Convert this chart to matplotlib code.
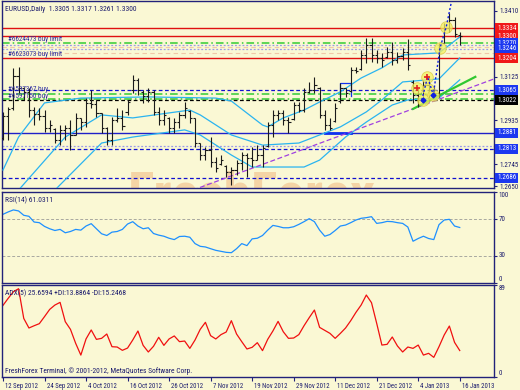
import matplotlib
matplotlib.use('Agg')
import matplotlib.pyplot as plt
import matplotlib.transforms as mtransforms
import numpy as np

plt.rcParams['font.family'] = ['Liberation Sans Narrow', 'Roboto Condensed', 'Liberation Sans', 'DejaVu Sans']

# ---------------- data ----------------
opens = [1.2859, 1.2954, 1.2989, 1.3128, 1.3076, 1.3059, 1.2980, 1.2963, 1.2954, 1.2902,
         1.2898, 1.2850, 1.2894, 1.2902, 1.2872, 1.2946, 1.2928, 1.3011, 1.3006, 1.2967,
         1.2902, 1.2850, 1.2937, 1.2946, 1.2972, 1.3067, 1.3111, 1.3059, 1.3041, 1.3059,
         1.2972, 1.2937, 1.2946, 1.2902, 1.2928, 1.2959, 1.2976, 1.2946, 1.2837, 1.2785,
         1.2807, 1.2755, 1.2746, 1.2737, 1.2711, 1.2720, 1.2750, 1.2785, 1.2772, 1.2763,
         1.2785, 1.2824, 1.2915, 1.2959, 1.2967, 1.2937, 1.2941, 1.3002, 1.2980, 1.3059,
         1.3067, 1.3076, 1.2959, 1.2915, 1.2933, 1.3019, 1.3076, 1.3063, 1.3154, 1.3158,
         1.3219, 1.3262, 1.3219, 1.3206, 1.3210, 1.3232, 1.3197, 1.3215, 1.3232, 1.3102,
         1.3046, 1.3024, 1.3089, 1.3067, 1.3054, 1.3271, 1.3336, 1.3371, 1.3305]
highs = [1.2972, 1.2993, 1.3163, 1.3167, 1.3080, 1.3076, 1.2993, 1.2989, 1.2980, 1.2937,
         1.2902, 1.2915, 1.2915, 1.2937, 1.2967, 1.2946, 1.3032, 1.3067, 1.3024, 1.2967,
         1.2907, 1.2950, 1.2989, 1.2980, 1.3024, 1.3132, 1.3119, 1.3067, 1.3076, 1.3067,
         1.2993, 1.2980, 1.2950, 1.2946, 1.2972, 1.3015, 1.2980, 1.2946, 1.2837, 1.2820,
         1.2863, 1.2776, 1.2785, 1.2742, 1.2733, 1.2763, 1.2798, 1.2794, 1.2820, 1.2828,
         1.2828, 1.2928, 1.2980, 1.2980, 1.2980, 1.2950, 1.3015, 1.3015, 1.3076, 1.3102,
         1.3124, 1.3080, 1.2980, 1.2946, 1.3011, 1.3098, 1.3076, 1.3167, 1.3167, 1.3241,
         1.3293, 1.3293, 1.3241, 1.3228, 1.3254, 1.3275, 1.3232, 1.3249, 1.3288, 1.3111,
         1.3076, 1.3111, 1.3124, 1.3080, 1.3271, 1.3358, 1.3401, 1.3384, 1.3317]
lows = [1.2850, 1.2850, 1.2980, 1.3054, 1.3024, 1.2950, 1.2915, 1.2937, 1.2885, 1.2885,
        1.2837, 1.2828, 1.2850, 1.2807, 1.2872, 1.2894, 1.2907, 1.2989, 1.2950, 1.2881,
        1.2828, 1.2828, 1.2928, 1.2894, 1.2959, 1.3054, 1.3046, 1.3011, 1.3015, 1.2959,
        1.2915, 1.2915, 1.2881, 1.2881, 1.2902, 1.2946, 1.2924, 1.2820, 1.2763, 1.2763,
        1.2733, 1.2711, 1.2742, 1.2690, 1.2655, 1.2698, 1.2720, 1.2690, 1.2733, 1.2763,
        1.2733, 1.2820, 1.2863, 1.2937, 1.2915, 1.2881, 1.2937, 1.2972, 1.2972, 1.3054,
        1.3054, 1.2946, 1.2894, 1.2894, 1.2928, 1.3011, 1.3037, 1.3059, 1.3141, 1.3154,
        1.3184, 1.3189, 1.3184, 1.3167, 1.3206, 1.3176, 1.3184, 1.3197, 1.3154, 1.3011,
        1.2993, 1.3024, 1.3032, 1.3037, 1.3037, 1.3271, 1.3319, 1.3297, 1.3261]
closes = [1.2954, 1.2985, 1.3128, 1.3076, 1.3059, 1.2980, 1.2963, 1.2954, 1.2902, 1.2915,
          1.2850, 1.2894, 1.2902, 1.2872, 1.2946, 1.2928, 1.3011, 1.3006, 1.2967, 1.2902,
          1.2850, 1.2937, 1.2946, 1.2911, 1.3015, 1.3111, 1.3067, 1.3041, 1.3059, 1.2972,
          1.2937, 1.2959, 1.2902, 1.2928, 1.2959, 1.2989, 1.2946, 1.2837, 1.2785, 1.2807,
          1.2755, 1.2729, 1.2763, 1.2711, 1.2720, 1.2750, 1.2785, 1.2772, 1.2763, 1.2785,
          1.2815, 1.2915, 1.2959, 1.2967, 1.2937, 1.2928, 1.3002, 1.2980, 1.3059, 1.3067,
          1.3089, 1.2959, 1.2915, 1.2902, 1.2989, 1.3076, 1.3054, 1.3154, 1.3150, 1.3219,
          1.3262, 1.3219, 1.3206, 1.3197, 1.3232, 1.3197, 1.3215, 1.3232, 1.3176, 1.3046,
          1.3024, 1.3089, 1.3067, 1.3054, 1.3249, 1.3336, 1.3371, 1.3310, 1.3300]

# three cyan averages (bar index, price)
ma_fast_idx = [0, 3, 8, 15, 28, 41, 44, 47, 50, 51, 54, 58, 61, 65, 69, 73, 77, 84, 86, 88]
ma_fast_val = [1.2720, 1.2863, 1.3011, 1.3032, 1.3037, 1.3032, 1.3019, 1.2967, 1.2915, 1.2907,
               1.2946, 1.2980, 1.3015, 1.3059, 1.3119, 1.3163, 1.3219, 1.3228, 1.3262, 1.3297]
ma_mid_idx = [3, 12, 19, 25, 36, 38, 44, 50, 57, 65, 70, 73, 77, 84, 88]
ma_mid_val = [1.2633, 1.2863, 1.2959, 1.2946, 1.2980, 1.2959, 1.2872, 1.2828, 1.2837, 1.2907,
              1.2972, 1.3024, 1.3102, 1.3115, 1.3206]
ma_slow_idx = [10, 19, 25, 35, 38, 44, 48, 58, 61, 66, 70, 75, 78, 84, 88]
ma_slow_val = [1.2633, 1.2837, 1.2863, 1.2894, 1.2872, 1.2785, 1.2733, 1.2733, 1.2763, 1.2863,
               1.2928, 1.3002, 1.3024, 1.3032, 1.3111]

rsi = [75.5, 78.1, 80.3, 79.2, 74.4, 73.3, 67.0, 66.3, 62.2, 59.6,
       57.7, 58.9, 55.2, 56.6, 58.9, 58.1, 62.6, 65.2, 59.6, 54.1,
       52.2, 55.9, 56.6, 58.9, 64.8, 67.4, 62.6, 59.6, 60.7, 54.4,
       52.6, 51.4, 49.2, 47.7, 51.1, 51.4, 50.3, 43.3, 40.3, 39.6,
       37.7, 35.9, 34.8, 33.7, 33.3, 37.7, 43.3, 41.1, 48.5, 49.2,
       52.2, 58.1, 63.3, 62.2, 60.7, 60.7, 61.8, 64.4, 67.4, 70.7,
       67.4, 58.1, 51.4, 53.3, 57.7, 62.6, 63.7, 66.3, 69.2, 71.1,
       71.8, 72.9, 65.5, 66.3, 67.7, 67.4, 66.3, 65.5, 61.5, 45.9,
       48.9, 51.4, 48.9, 47.7, 64.1, 69.2, 70.0, 62.6, 61.0]
adx = [69.3, 76.1, 82.5, 85.4, 56.7, 47.4, 49.6, 51.6, 58.4, 65.4,
       69.6, 72.2, 53.5, 46.1, 32.6, 21.2, 36.8, 45.5, 36.4, 37.4,
       41.6, 29.3, 29.0, 25.8, 28.0, 35.8, 44.5, 30.6, 24.2, 29.7,
       38.4, 30.6, 36.8, 39.7, 34.2, 34.8, 27.7, 35.8, 46.1, 52.9,
       40.0, 36.8, 41.0, 43.5, 54.5, 41.6, 34.2, 27.1, 28.7, 33.2,
       25.5, 36.4, 44.5, 53.8, 43.8, 37.4, 37.7, 41.0, 49.6, 57.4,
       64.8, 48.0, 45.1, 42.2, 37.4, 42.2, 47.4, 54.5, 62.5, 69.6,
       79.3, 71.9, 51.9, 30.9, 31.6, 38.7, 30.0, 24.2, 29.0, 27.7,
       30.9, 21.2, 22.9, 19.0, 29.3, 40.6, 49.3, 33.5, 25.6]

date_idx = [0, 8, 16, 24, 32, 40, 48, 56, 64, 72, 80, 88]
date_labels = ['12 Sep 2012', '24 Sep 2012', '4 Oct 2012', '16 Oct 2012', '26 Oct 2012',
               '7 Nov 2012', '19 Nov 2012', '29 Nov 2012', '11 Dec 2012', '21 Dec 2012',
               '4 Jan 2013', '16 Jan 2013']

price_ticks = [1.3410, 1.3125, 1.2935, 1.2745, 1.2650]
level_labels = [1.3334, 1.3300, 1.3270, 1.3246, 1.3204, 1.3065, 1.3022, 1.2881, 1.2813, 1.2686]
level_kinds = ['red', 'red', 'blue', 'blue', 'red', 'blue', 'black', 'blue', 'blue', 'blue']

hlines_price = [1.3334, 1.3300, 1.3270, 1.3262, 1.3246, 1.3204, 1.3065, 1.3050, 1.3026, 1.3022,
                1.2881, 1.2824, 1.2813, 1.2686]
hlines_kind = ['red', 'red', 'green', 'lav', 'lav', 'red', 'bdash', 'green', 'green', 'kdash',
               'bsolid', 'lav', 'bdash', 'bdash']
faint_levels = [1.3254, 1.3228]

order_texts = ['#6624473 buy limit', '#6623073 buy limit', '#6597367 buy', '#6597150 buy']
order_prices = [1.3286, 1.3219, 1.3071, 1.3040]

trend_purple_idx = [36.6, 94.6]
trend_purple_val = [1.2633, 1.3115]
trend_green_idx = [79.0, 91.0]
trend_green_val = [1.2985, 1.3124]

wave_idx = [79.8, 81.7, 81.9, 80.9, 82.9, 84.2, 85.4]
wave_val = [1.3076, 1.3124, 1.3072, 1.3024, 1.3046, 1.3249, 1.3341]
wave_path_idx = [80.7, 81.8, 82.9, 84.2, 85.4, 86.4]
wave_path_val = [1.3024, 1.3124, 1.3046, 1.3249, 1.3341, 1.3450]

# ---------------- styling ----------------
W, H = 520, 390
BG = '#FAF8D4'
NAVY = '#22227a'
TXT = '#1c1c6e'
FS = 5.4
FSR = 5.0

fig = plt.figure(figsize=(5.2, 3.9), dpi=100)
fig.patch.set_facecolor(BG)


def px_axes(x0, y0, x1, y1):
    return fig.add_axes([x0 / W, 1 - y1 / H, (x1 - x0) / W, (y1 - y0) / H])


ax = px_axes(2, 1, 494, 188)
ax_rsi = px_axes(2, 192, 494, 283)
ax_adx = px_axes(2, 285, 494, 377)

XL = (-0.19, 94.6)
for a in (ax, ax_rsi, ax_adx):
    a.set_facecolor(BG)
    a.set_xlim(*XL)
    for s in a.spines.values():
        s.set_color(NAVY)
        s.set_linewidth(1.0)
    a.yaxis.tick_right()
    a.tick_params(axis='y', colors=NAVY, labelcolor=TXT, labelsize=FSR, length=2, pad=2, width=0.8)
    a.tick_params(axis='x', bottom=False, labelbottom=False)

# ---- main panel ----
ax.set_ylim(1.2642, 1.3453)
ax.set_yticks(price_ticks)
ax.set_yticklabels(['%.4f' % v for v in price_ticks])

ax.text(24, 1.2538, 'FreshForex', fontsize=40, fontweight='bold', color='#F0B880',
        alpha=0.55, ha='left', va='baseline', clip_on=True, zorder=0)

for p in faint_levels:
    ax.axhline(p, color='#F0C8A8', lw=0.8, ls=(0, (4, 3)), zorder=1)

style = {
    'red': dict(color='#E01010', lw=1.0, ls='-'),
    'green': dict(color='#33CC33', lw=1.1, ls=(0, (5, 2, 1, 2))),
    'lav': dict(color='#9A9AE8', lw=0.9, ls=(0, (1.5, 1.5))),
    'bdash': dict(color='#1010D0', lw=0.9, ls=(0, (3, 2))),
    'kdash': dict(color='#000000', lw=0.9, ls=(0, (3, 2))),
    'bsolid': dict(color='#2020C8', lw=1.0, ls='-'),
}
for p, k in zip(hlines_price, hlines_kind):
    ax.axhline(p, zorder=2, **style[k])

ax.plot([62, 67], [1.2881, 1.2881], color='#1030F0', lw=2.0, zorder=3)
ax.plot([65, 65, 67, 67], [1.3040, 1.3098, 1.3098, 1.3040], color='#1030F0', lw=0.9, zorder=3)

CY = '#2AB4F0'
ax.plot(ma_fast_idx, ma_fast_val, color=CY, lw=0.9, zorder=3)
ax.plot(ma_mid_idx, ma_mid_val, color=CY, lw=0.9, zorder=3)
ax.plot(ma_slow_idx, ma_slow_val, color=CY, lw=0.9, zorder=3)

ax.plot(trend_purple_idx, trend_purple_val, color='#A040E0', lw=0.9, ls=(0, (4, 2)), zorder=3)
ax.plot(trend_green_idx, trend_green_val, color='#30C830', lw=1.6, zorder=3)

x = np.arange(len(closes))
BARC = '#1a1a1a'
ax.vlines(x, lows, highs, color=BARC, lw=0.8, zorder=4)
ax.hlines(opens, x - 0.42, x, color=BARC, lw=0.8, zorder=4)
ax.hlines(closes, x, x + 0.42, color=BARC, lw=0.8, zorder=4)

ax.scatter(wave_idx, wave_val, s=70, color='#F4F060', alpha=0.75, edgecolors='#D8C840',
           linewidths=0.6, zorder=5)
ax.plot(wave_path_idx, wave_path_val, color='#1020E0', lw=1.0, ls=(0, (1.5, 1.5)), zorder=6)
ax.scatter([wave_idx[0], wave_idx[1]], [wave_val[0], wave_val[1]], marker='+', s=18,
           color='#E02020', linewidths=1.2, zorder=7)
ax.scatter([wave_idx[3], wave_idx[4]], [wave_val[3], wave_val[4]], marker='D', s=6,
           color='#1020E0', zorder=7)

ax.text(0.007, 0.975, 'EURUSD,Daily  1.3305 1.3317 1.3261 1.3300', transform=ax.transAxes,
        fontsize=FS, color=TXT, ha='left', va='top')
for t, p in zip(order_texts, order_prices):
    ax.text(1.0, p, t, fontsize=FS - 0.3, color='#2a2aa0', ha='left', va='center', zorder=6)

box_col = {'red': '#F01818', 'blue': '#1C38F0', 'black': '#000000'}
tr = mtransforms.blended_transform_factory(ax.transAxes, ax.transData)
for p, k in zip(level_labels, level_kinds):
    ax.text(1.006, p, '%.4f' % p, transform=tr, fontsize=FSR, color='white', ha='left',
            va='center', clip_on=False, zorder=8,
            bbox=dict(boxstyle='square,pad=0.22', fc=box_col[k], ec='none'))

# ---- RSI ----
ax_rsi.set_ylim(0, 100)
ax_rsi.set_yticks([100, 70, 30, 0])
ax_rsi.set_yticklabels([])
tr_r = mtransforms.blended_transform_factory(ax_rsi.transAxes, ax_rsi.transData)
for v, lab, va in [(100, '100', 'top'), (70, '70', 'center'), (30, '30', 'center'), (0, '0', 'bottom')]:
    ax_rsi.text(1.01, v, lab, transform=tr_r, fontsize=FSR, color=TXT, ha='left', va=va, clip_on=False)
for lv in (70, 30):
    ax_rsi.axhline(lv, color='#A8A8A0', lw=0.7, ls=(0, (3, 2)))
ax_rsi.plot(x, rsi, color='#1E90FF', lw=0.9)
ax_rsi.text(0.007, 0.95, 'RSI(14) 61.0311', transform=ax_rsi.transAxes, fontsize=FS,
            color=TXT, ha='left', va='top')

# ---- ADX ----
ax_adx.set_ylim(0, 89)
ax_adx.set_yticks([89, 0])
ax_adx.set_yticklabels([])
tr_a = mtransforms.blended_transform_factory(ax_adx.transAxes, ax_adx.transData)
for v, lab, va in [(89, '89', 'top'), (0, '0', 'bottom')]:
    ax_adx.text(1.01, v, lab, transform=tr_a, fontsize=FSR, color=TXT, ha='left', va=va, clip_on=False)
ax_adx.plot(x, adx, color='#F01010', lw=0.9)
ax_adx.text(0.007, 0.95, 'ADX(5) 25.6594 +DI:13.8864 -DI:15.2468', transform=ax_adx.transAxes,
            fontsize=FS, color=TXT, ha='left', va='top')
ax_adx.text(0.007, 0.02, 'FreshForex Terminal, \u00a9 2001-2012, MetaQuotes Software Corp.',
            transform=ax_adx.transAxes, fontsize=FS, color=TXT, ha='left', va='bottom')

ax_adx.set_xticks(date_idx)
ax_adx.set_xticklabels(date_labels)
ax_adx.tick_params(axis='x', bottom=True, labelbottom=True, direction='out', length=3,
                   width=0.8, colors=NAVY, labelcolor=TXT, labelsize=4.9, pad=1)
offset = mtransforms.ScaledTranslation(2 / 100, 0, fig.dpi_scale_trans)
for lab in ax_adx.get_xticklabels():
    lab.set_horizontalalignment('left')
    lab.set_transform(lab.get_transform() + offset)

fig.savefig('out.png', dpi=100, facecolor=BG)
